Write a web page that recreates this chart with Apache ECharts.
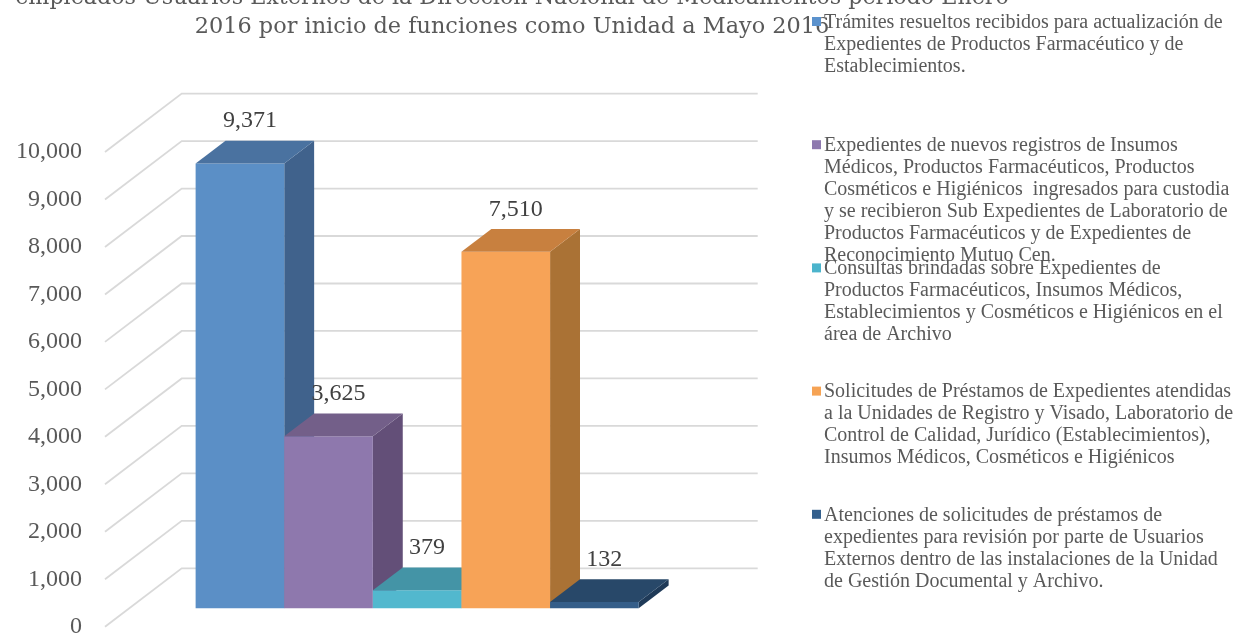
<!DOCTYPE html>
<html>
<head>
<meta charset="utf-8">
<title>Servicios y trámites 2016</title>
<script src="https://cdn.jsdelivr.net/npm/echarts@6/dist/echarts.min.js"></script>
<style>
  html, body { margin: 0; padding: 0; background: #ffffff; }
  #chart { width: 1233px; height: 634px; }
</style>
</head>
<body>
<div id="chart"></div>
<script>
// ---- data ----
const titleLines = [
  'empleados Usuarios Externos de la Dirección Nacional de Medicamentos período Enero',
  '2016 por inicio de funciones como Unidad a Mayo 2016'
];

const legendLines = [
  ['Trámites resueltos recibidos para actualización de',
   'Expedientes de Productos Farmacéutico y de',
   'Establecimientos.'],
  ['Expedientes de nuevos registros de Insumos',
   'Médicos, Productos Farmacéuticos, Productos',
   'Cosméticos e Higiénicos  ingresados para custodia',
   'y se recibieron Sub Expedientes de Laboratorio de',
   'Productos Farmacéuticos y de Expedientes de',
   'Reconocimiento Mutuo Cen.'],
  ['Consultas brindadas sobre Expedientes de',
   'Productos Farmacéuticos, Insumos Médicos,',
   'Establecimientos y Cosméticos e Higiénicos en el',
   'área de Archivo'],
  ['Solicitudes de Préstamos de Expedientes atendidas',
   'a la Unidades de Registro y Visado, Laboratorio de',
   'Control de Calidad, Jurídico (Establecimientos),',
   'Insumos Médicos, Cosméticos e Higiénicos'],
  ['Atenciones de solicitudes de préstamos de',
   'expedientes para revisión por parte de Usuarios',
   'Externos dentro de las instalaciones de la Unidad',
   'de Gestión Documental y Archivo.']
];

const seriesNames = legendLines.map(lines => lines.join(' '));
const seriesValues = [9371, 3625, 379, 7510, 132];
const categories = [''];
const yTicks = [0, 1000, 2000, 3000, 4000, 5000, 6000, 7000, 8000, 9000, 10000];

// ---- styling ----
const FONT = '"Liberation Serif", "DejaVu Serif", serif';
const TITLE_FONT = '"DejaVu Serif", "Liberation Serif", serif';
const faceColors = [
  { front: '#5B8FC6', top: '#4A72A0', side: '#40628C' },
  { front: '#8E78AD', top: '#735F89', side: '#634F78' },
  { front: '#52B8CE', top: '#4494A6', side: '#3B7F8F' },
  { front: '#F7A357', top: '#C8803F', side: '#AA7235' },
  { front: '#355E89', top: '#284869', side: '#1F3A58' }
];
const legendColors = ['#5B92CD', '#8E79AF', '#4BB4CC', '#F6A354', '#34608D'];

// oblique projection: offset of the back wall relative to the front plane
const DX = 76.7, DY = -58.4;
// depth span occupied by the bars (fraction of full depth)
const D0 = 0.315, D1 = 0.705;
const GAP = 1.5; // gap width relative to one bar

const fmt = v => Number(v).toLocaleString('en-US');

function renderGrid(params, api) {
  const cs = params.coordSys;
  const p = api.coord([0, api.value(1)]);
  return {
    type: 'polyline',
    shape: { points: [[cs.x, p[1]], [cs.x + DX, p[1] + DY], [cs.x + cs.width + DX, p[1] + DY]] },
    style: { stroke: '#D9D9D9', lineWidth: 1.8, fill: null },
    silent: true
  };
}

function renderBar(params, api) {
  const idx = api.value(2);
  const v = api.value(1);
  const base = api.coord([0, 0]);
  const topPt = api.coord([0, v]);
  const band = api.size([1, 0])[0];
  const n = seriesValues.length;
  const bw = band / (n + GAP);
  const ox = DX * D0, oy = DY * D0;
  const ddx = DX * (D1 - D0), ddy = DY * (D1 - D0);
  const xl = base[0] - bw * n / 2 + idx * bw + ox;
  const xr = xl + bw;
  const yb = base[1] + oy;
  const yt = topPt[1] + oy;
  const col = faceColors[idx];
  return {
    type: 'group',
    children: [
      { type: 'polygon', shape: { points: [[xr, yt], [xr + ddx, yt + ddy], [xr + ddx, yb + ddy], [xr, yb]] },
        style: { fill: col.side } },
      { type: 'rect', shape: { x: xl, y: yt, width: bw, height: yb - yt },
        style: { fill: col.front } },
      { type: 'polygon', shape: { points: [[xl, yt], [xr, yt], [xr + ddx, yt + ddy], [xl + ddx, yt + ddy]] },
        style: { fill: col.top } },
      { type: 'text', x: (xl + xr + ddx) / 2 - 5, y: yt + ddy / 2 - 31, z2: 10,
        style: { text: fmt(v), fill: '#404040', font: '24px ' + FONT, align: 'center', verticalAlign: 'middle' } }
    ]
  };
}

// legend drawn as text blocks, one every 123 px
const legendGraphics = [];
legendLines.forEach((lines, i) => {
  const cy = 23 + i * 123.2;
  legendGraphics.push({
    type: 'rect', shape: { x: 812, y: cy - 6, width: 9, height: 9 },
    style: { fill: legendColors[i] }
  });
  legendGraphics.push({
    type: 'text', x: 824, y: cy - 11.5,
    style: { text: lines.join('\n'), fill: '#595959', font: '20px ' + FONT, lineHeight: 22,
             align: 'left', verticalAlign: 'top' }
  });
});

const chart = echarts.init(document.getElementById('chart'));
chart.setOption({
  animation: false,
  backgroundColor: '#ffffff',
  grid: { left: 105, width: 576, top: 152, bottom: 7.3, containLabel: false, outerBoundsMode: 'none' },
  xAxis: { type: 'category', data: categories, show: false },
  yAxis: {
    type: 'value', min: 0, max: 10000, interval: 1000,
    axisLine: { show: false }, axisTick: { show: false }, splitLine: { show: false },
    axisLabel: { formatter: fmt, fontSize: 24, fontFamily: FONT, color: '#595959', margin: 23 }
  },
  graphic: [
    { type: 'text', x: 512, y: -2, style: { text: titleLines[0], fill: '#595959', font: '22.2px ' + TITLE_FONT, align: 'center', verticalAlign: 'middle' } },
    { type: 'text', x: 512, y: 27.5, style: { text: titleLines[1], fill: '#595959', font: '22.4px ' + TITLE_FONT, align: 'center', verticalAlign: 'middle' } }
  ].concat(legendGraphics),
  series: [
    {
      type: 'custom', name: 'grid', z: 1, silent: true,
      renderItem: renderGrid,
      data: yTicks.map(t => [0, t])
    }
  ].concat(seriesValues.map((v, i) => ({
    type: 'custom', name: seriesNames[i], z: 10 + i,
    renderItem: renderBar,
    data: [[0, v, i]]
  })))
});
</script>
</body>
</html>
